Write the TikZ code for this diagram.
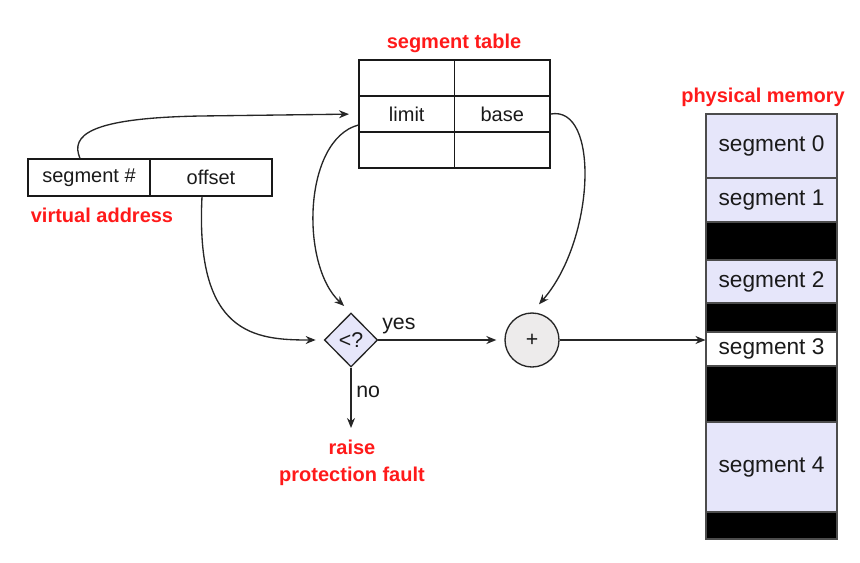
\documentclass[tikz,border=0pt]{standalone}
\usepackage{fontspec}
\setmainfont{Liberation Sans}
\usetikzlibrary{arrows.meta,shapes.geometric}
\definecolor{txt}{HTML}{1A1A1A}
\definecolor{lav}{HTML}{E6E6FA}
\definecolor{circfill}{HTML}{EDEBEB}
\definecolor{lblred}{HTML}{FF1A1A}
\begin{document}
\begin{tikzpicture}[x=0.75pt,y=-0.75pt,
  cell/.style={draw=black!90, line width=1pt, inner sep=0pt, text=txt, font=\fontsize{15}{17}\selectfont},
  redlbl/.style={text=lblred, font=\bfseries\fontsize{15}{20}\selectfont, inner sep=0pt, align=center},
  memblk/.style={draw=gray!60!black, line width=0.8pt, fill=lav, minimum width=98.25pt, inner sep=0pt, text=txt, font=\fontsize{17}{20}\selectfont},
  gapblk/.style={memblk, fill=black},
  conn/.style={line width=1pt, draw=black!85, -{Stealth[length=7.5pt,width=6pt]}},
  plainlbl/.style={text=txt, font=\fontsize{16}{18}\selectfont, inner sep=0pt}]
\useasboundingbox (0,0) rectangle (860,562);

% virtual address
\node[cell, minimum width=91.5pt, minimum height=27.75pt] (segno) at (89,177.5) {segment \#};
\node[cell, minimum width=91.5pt, minimum height=27.75pt] (offset) at (211,177.5) {offset};
\node[redlbl] (valbl) at (102,215) {virtual address};

% segment table
\node[redlbl] (stlbl) at (454,43) {segment table};
\node[cell, minimum width=71.625pt, minimum height=27pt] (t11) at (406.75,78) {};
\node[cell, minimum width=71.625pt, minimum height=27pt] (t12) at (502.25,78) {};
\node[cell, minimum width=71.625pt, minimum height=27pt] (t21) at (406.75,114) {limit};
\node[cell, minimum width=71.625pt, minimum height=27pt] (t22) at (502.25,114) {base};
\node[cell, minimum width=71.625pt, minimum height=27pt] (t31) at (406.75,150) {};
\node[cell, minimum width=71.625pt, minimum height=27pt] (t32) at (502.25,150) {};

% physical memory
\node[redlbl] (pmlbl) at (763,97) {physical memory};
\node[memblk, minimum height=48pt] (m0) at (771.5,146) {segment 0};
\node[memblk, minimum height=33pt] (m1) at (771.5,200) {segment 1};
\node[gapblk, minimum height=28.5pt] (g1) at (771.5,241) {};
\node[memblk, minimum height=32.25pt] (m2) at (771.5,281.5) {segment 2};
\node[gapblk, minimum height=21.75pt] (g2) at (771.5,317.5) {};
\node[memblk, fill=white, minimum height=25.5pt] (m3) at (771.5,349) {segment 3};
\node[gapblk, minimum height=42pt] (g3) at (771.5,394) {};
\node[memblk, minimum height=67.5pt] (m4) at (771.5,467) {segment 4};
\node[gapblk, minimum height=20.25pt] (g4) at (771.5,525.5) {};

% comparison and adder
\node[diamond, draw=black!85, line width=1pt, fill=lav, minimum width=40pt, minimum height=40.5pt, inner sep=0pt, text=txt, font=\fontsize{16}{18}\selectfont] (cmp) at (351,340) {<?};
\node[circle, draw=black!85, line width=1pt, fill=circfill, minimum size=40.5pt, inner sep=0pt, text=txt, font=\fontsize{16}{18}\selectfont] (plus) at (532,340) {+};

\node[plainlbl, anchor=west] (yes) at (382,326) {yes};
\node[plainlbl, anchor=west] (no) at (356,392) {no};
\node[redlbl] (fault) at (352,463) {raise\\protection fault};
\coordinate (noend) at (351,428);

% connectors
\draw[conn, shorten >=7pt] ([xshift=-6.75pt]segno.north) .. controls (70,135) and (90,118) .. (200,116) -- (t21.west);
\draw[conn, shorten >=6pt] ([xshift=-6.75pt]offset.south) .. controls (195,335) and (255,340) .. (cmp.west);
\draw[conn, shorten >=7pt] ([yshift=-8.25pt]t21.west) .. controls (303,140) and (300,265) .. (cmp.north);
\draw[conn, shorten >=8pt] (t22.east) .. controls (600,105) and (595,240) .. (plus.north);
\draw[conn, shorten >=6pt] (cmp.east) -- (plus.west);
\draw[conn] (cmp.south) -- (noend);
\draw[conn] (plus.east) -- (plus.east -| m3.west);
\end{tikzpicture}
\end{document}
